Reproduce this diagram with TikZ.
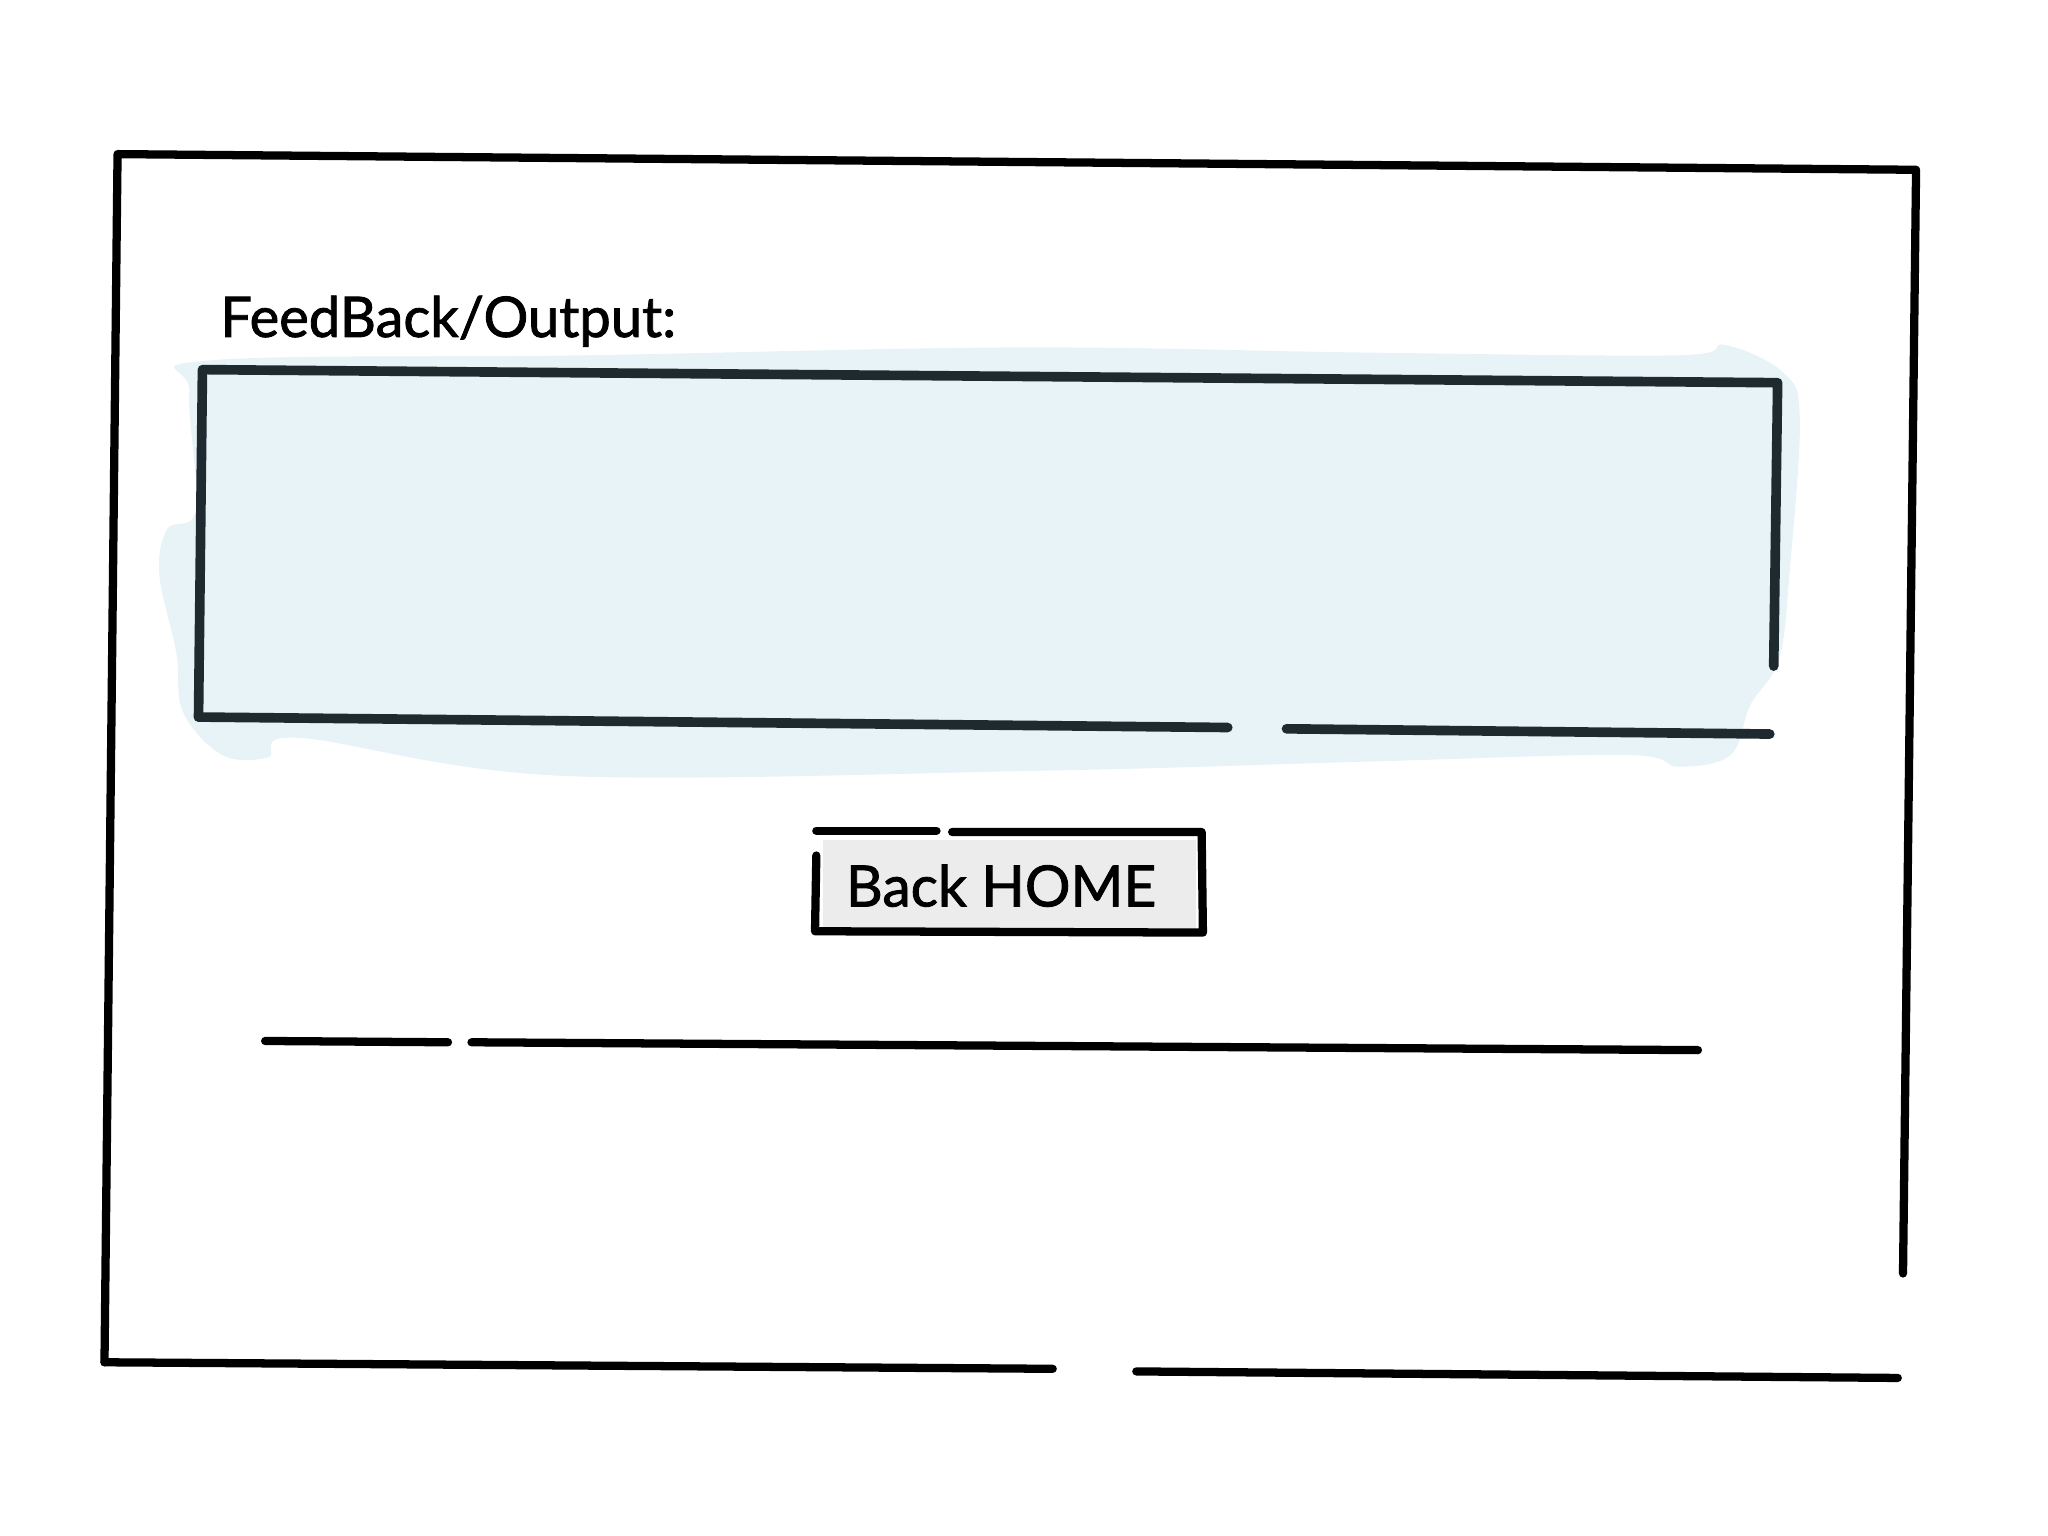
\documentclass[tikz,border=0pt]{standalone}
\usepackage{fontspec}
\setmainfont[FakeBold=1.5]{Lato}
\usetikzlibrary{positioning}
\definecolor{skyfill}{HTML}{E8F3F8}
\definecolor{slateline}{HTML}{1E2A30}
\definecolor{btngray}{HTML}{ECECEC}
\tikzset{
    sketch/.style = {line width=1.8pt,draw=black,line cap=round,line join=round},
    sketchb/.style = {line width=2.1pt,draw=slateline,line cap=round,line join=round},
    blob/.style = {fill=skyfill,draw=none},
    btnfill/.style = {fill=btngray,draw=none},
    labeltext/.style = {anchor=base west,inner sep=0pt,font=\fontsize{12.2}{14}\selectfont},
    btntext/.style = {anchor=base west,inner sep=0pt,font=\fontsize{12.4}{14}\selectfont}
}
\begin{document}
\begin{tikzpicture}[x=0.01cm,y=-0.01cm]
\useasboundingbox (0,0) rectangle (1568,1176);
%
% light blue wash behind the output field
\fill[blob] plot[smooth cycle,tension=0.6] coordinates {
  (160,276) (450,272) (780,266) (1050,270) (1285,272) (1320,264) (1365,285)
  (1378,320) (1370,440) (1362,505) (1340,540) (1325,578) (1285,587) (1245,578)
  (1050,583) (800,590) (430,594) (230,565) (205,580) (170,578) (140,545)
  (135,500) (122,440) (128,405) (150,390) (145,300)};
%
% output field
\draw[sketchb] (152,549) -- (155,283) -- (1361,293) -- (1358,510);
\draw[sketchb] (152,549) -- (940,557);
\draw[sketchb] (985,558) -- (1355,562);
%
% button
\fill[btnfill] (630,643) rectangle (916,712);
\draw[sketch] (625,636) -- (717,636);
\draw[sketch] (729,637) -- (920,637) -- (921,714) -- (624,713) -- (625,655);
%
% separator
\draw[sketch] (203,797) -- (343,798);
\draw[sketch] (361,798) -- (1300,804);
%
% outer frame
\draw[sketch] (80,1043) -- (90,118) -- (1467,130) -- (1457,975);
\draw[sketch] (80,1043) -- (806,1048);
\draw[sketch] (870,1050) -- (1453,1055);
%
\node[labeltext] (fblabel) at (168,258) {FeedBack/Output:};
\node[btntext] (homebtn) at (647,694) {Back HOME};
\end{tikzpicture}
\end{document}
